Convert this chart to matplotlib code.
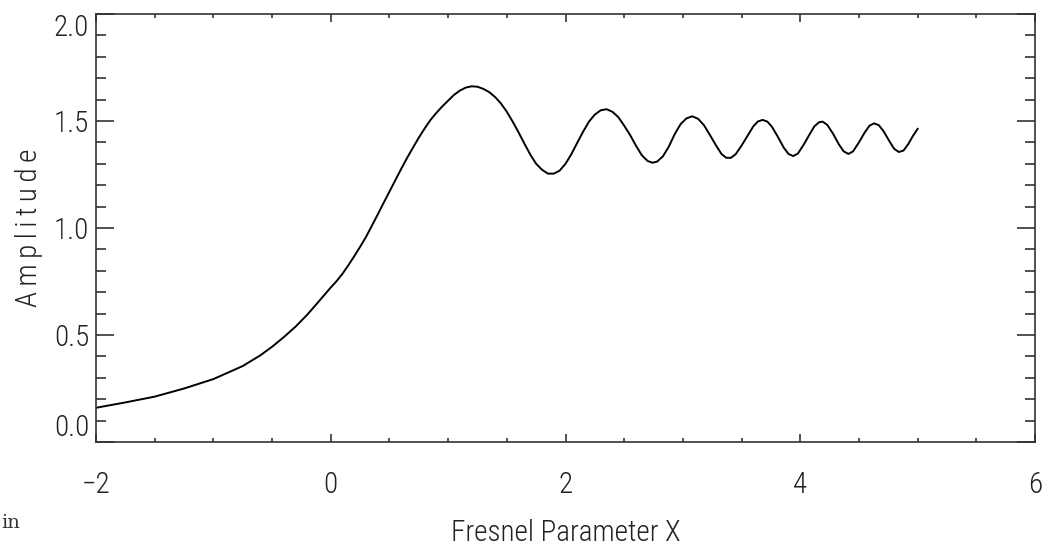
import matplotlib
matplotlib.use("Agg")
import matplotlib.pyplot as plt
from matplotlib import font_manager
from matplotlib.ticker import MultipleLocator

# values
fresnel_x = [-2.00, -1.75, -1.50, -1.25, -1.00, -0.75, -0.60, -0.50, -0.40, -0.30,
             -0.20, -0.10, 0.00, 0.05, 0.10, 0.15, 0.20, 0.25, 0.30, 0.35,
             0.40, 0.45, 0.50, 0.55, 0.60, 0.65, 0.70, 0.75, 0.80, 0.85,
             0.90, 0.95, 1.00, 1.05, 1.10, 1.15, 1.20, 1.25, 1.30, 1.35,
             1.40, 1.45, 1.50, 1.55, 1.60, 1.65, 1.70, 1.75, 1.80, 1.85,
             1.90, 1.95, 2.00, 2.05, 2.10, 2.15, 2.20, 2.25, 2.30, 2.35,
             2.40, 2.45, 2.50, 2.55, 2.60, 2.65, 2.70, 2.74, 2.78, 2.83,
             2.88, 2.93, 2.98, 3.03, 3.08, 3.13, 3.18, 3.23, 3.28, 3.33,
             3.37, 3.41, 3.45, 3.50, 3.55, 3.60, 3.64, 3.68, 3.72, 3.76,
             3.81, 3.86, 3.90, 3.94, 3.98, 4.03, 4.08, 4.12, 4.16, 4.19,
             4.23, 4.28, 4.33, 4.37, 4.41, 4.45, 4.50, 4.55, 4.59, 4.63,
             4.67, 4.71, 4.76, 4.80, 4.84, 4.88, 4.92, 4.96, 5.00]
amplitude = [0.160, 0.185, 0.212, 0.250, 0.294, 0.355, 0.405, 0.445, 0.490, 0.539,
             0.595, 0.658, 0.722, 0.752, 0.786, 0.826, 0.868, 0.912, 0.958, 1.010,
             1.063, 1.117, 1.170, 1.223, 1.276, 1.327, 1.375, 1.422, 1.465, 1.505,
             1.538, 1.568, 1.595, 1.622, 1.642, 1.656, 1.662, 1.660, 1.650, 1.635,
             1.612, 1.582, 1.543, 1.497, 1.447, 1.394, 1.343, 1.300, 1.272, 1.254,
             1.254, 1.268, 1.300, 1.345, 1.398, 1.450, 1.497, 1.530, 1.550, 1.555,
             1.543, 1.518, 1.478, 1.435, 1.385, 1.340, 1.313, 1.305, 1.310, 1.335,
             1.380, 1.438, 1.485, 1.512, 1.522, 1.510, 1.480, 1.435, 1.388, 1.345,
             1.328, 1.328, 1.345, 1.385, 1.430, 1.475, 1.498, 1.505, 1.497, 1.472,
             1.425, 1.375, 1.346, 1.336, 1.348, 1.390, 1.438, 1.475, 1.494, 1.497,
             1.482, 1.440, 1.390, 1.358, 1.346, 1.358, 1.400, 1.447, 1.478, 1.489,
             1.480, 1.452, 1.405, 1.370, 1.355, 1.362, 1.392, 1.430, 1.463]

xticks = [-2, 0, 2, 4, 6]
yticks = [0.0, 0.5, 1.0, 1.5, 2.0]

# pick a narrow face if one is installed
names = {f.name for f in font_manager.fontManager.ttflist}
family = 'DejaVu Sans'
for cand in ['Roboto Condensed', 'Liberation Sans Narrow', 'Open Sans Condensed']:
    if cand in names:
        family = cand
        break
plt.rcParams['font.family'] = [family, 'DejaVu Sans']
plt.rcParams['font.stretch'] = 'condensed'
plt.rcParams['font.weight'] = 'light'
plt.rcParams['axes.labelweight'] = 'light'

fig = plt.figure(figsize=(10.48, 5.48), dpi=100)
ax = fig.add_axes([0.0916, 0.1934, 0.8960, 0.7811])

ax.plot(fresnel_x, amplitude, color='black', lw=1.4)

ax.set_xlim(-2, 6)
ax.set_ylim(0, 2.0)
ax.set_xticks(xticks)
ax.set_xticklabels([str(t).replace('-', '\u2212') for t in xticks])
ax.set_yticks(yticks)
ax.set_yticklabels([f'{t:.1f}' for t in yticks])
ax.xaxis.set_minor_locator(MultipleLocator(0.5))
ax.yaxis.set_minor_locator(MultipleLocator(0.1))

for s in ax.spines.values():
    s.set_color('#333333')
    s.set_linewidth(1.2)

ax.tick_params(axis='both', which='both', direction='in', top=True, right=True,
               color='#333333', width=1.2, labelsize=21, labelcolor='#222222')
ax.tick_params(axis='y', which='major', length=13, pad=5)
ax.tick_params(axis='y', which='minor', length=7.2)
ax.tick_params(axis='x', which='major', length=5.8, pad=21)
ax.tick_params(axis='x', which='minor', length=2.9)

# end labels sit inside the axis range, as in the original
ylabs = ax.get_yticklabels()
ylabs[0].set_verticalalignment('bottom')
ylabs[-1].set_verticalalignment('top')

ax.set_xlabel('Fresnel Parameter X', fontsize=21, color='#222222', labelpad=14)
ax.set_ylabel('\u2009'.join('Amplitude'), fontsize=21, color='#222222', labelpad=8)

fig.text(0.001, 0.037, 'in', family='DejaVu Serif', fontsize=14, color='#333333',
         weight='normal', stretch='normal')

fig.savefig('out.png', dpi=100)
